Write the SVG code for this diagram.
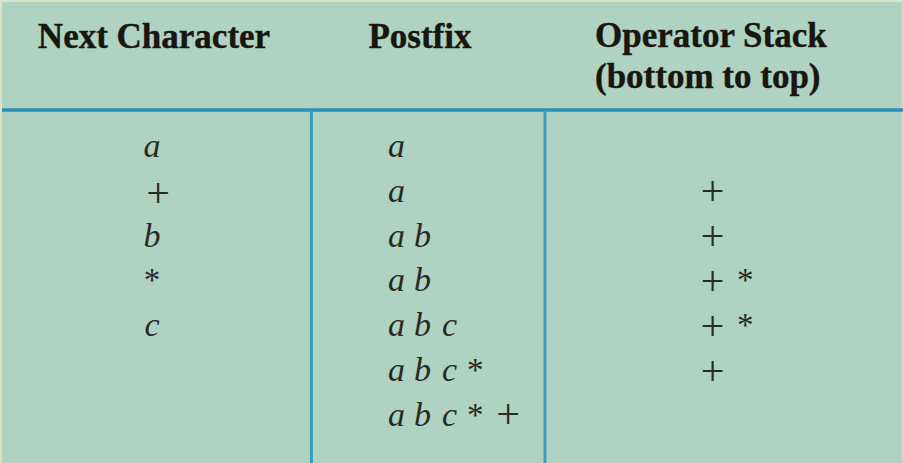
<svg xmlns="http://www.w3.org/2000/svg" width="903" height="463" viewBox="0 0 903 463">
<style>
.hd{font-family:"Liberation Serif","Times New Roman",serif;font-weight:bold;font-size:35px;fill:#18160e;stroke:#18160e;stroke-width:0.4}
.it{font-family:"Liberation Serif","Times New Roman",serif;font-style:italic;font-size:34px;fill:#2a2a24}
.rm{font-family:"Liberation Serif","Times New Roman",serif;font-size:33px;fill:#2a2a24}
.pl{font-family:"Liberation Serif","Times New Roman",serif;font-size:42px;fill:#2a2a24;text-anchor:middle}
.rule{stroke:#2a8fb2;stroke-width:3.5}
.vr{stroke:#3a9dba;stroke-width:3}
</style>
<rect x="0" y="0" width="903" height="463" fill="#d6e5c8"/>
<rect x="2" y="2" width="900" height="461" fill="#afd2c2"/>
<g id="connectors">
<line class="rule" x1="2" y1="110" x2="903" y2="110"/>
<line class="vr" x1="311.5" y1="110" x2="311.5" y2="463"/>
<line class="vr" x1="545" y1="110" x2="545" y2="463"/>
</g>
<g id="header">
<text class="hd" x="154" y="48" text-anchor="middle">Next Character</text>
<text class="hd" x="420" y="48" text-anchor="middle">Postfix</text>
<text class="hd" x="595" y="47">Operator Stack</text>
<text class="hd" x="595" y="88">(bottom to top)</text>
</g>
<g id="col-next">
<text class="it" x="152" y="157" text-anchor="middle">a</text>
<text class="pl" x="158" y="207">+</text>
<text class="it" x="152" y="247" text-anchor="middle">b</text>
<text class="rm" x="152" y="291" text-anchor="middle">*</text>
<text class="it" x="152" y="336" text-anchor="middle">c</text>
</g>
<g id="col-postfix">
<text class="it" x="388" y="157">a</text>
<text class="it" x="388" y="202">a</text>
<text class="it" x="388" y="247">a <tspan x="414">b</tspan></text>
<text class="it" x="388" y="291">a <tspan x="414">b</tspan></text>
<text class="it" x="388" y="336">a <tspan x="414">b</tspan><tspan x="442">c</tspan></text>
<text class="it" x="388" y="381">a <tspan x="414">b</tspan><tspan x="442">c</tspan></text>
<text class="rm" x="467" y="381">*</text>
<text class="it" x="388" y="426">a <tspan x="414">b</tspan><tspan x="442">c</tspan></text>
<text class="rm" x="467" y="426">*</text>
<text class="pl" x="508" y="428">+</text>
</g>
<g id="col-stack">
<text class="pl" x="712.5" y="205">+</text>
<text class="pl" x="712.5" y="250">+</text>
<text class="pl" x="712.5" y="295">+</text>
<text class="rm" x="737" y="291">*</text>
<text class="pl" x="712.5" y="340">+</text>
<text class="rm" x="737" y="336">*</text>
<text class="pl" x="712.5" y="385">+</text>
</g>
</svg>
